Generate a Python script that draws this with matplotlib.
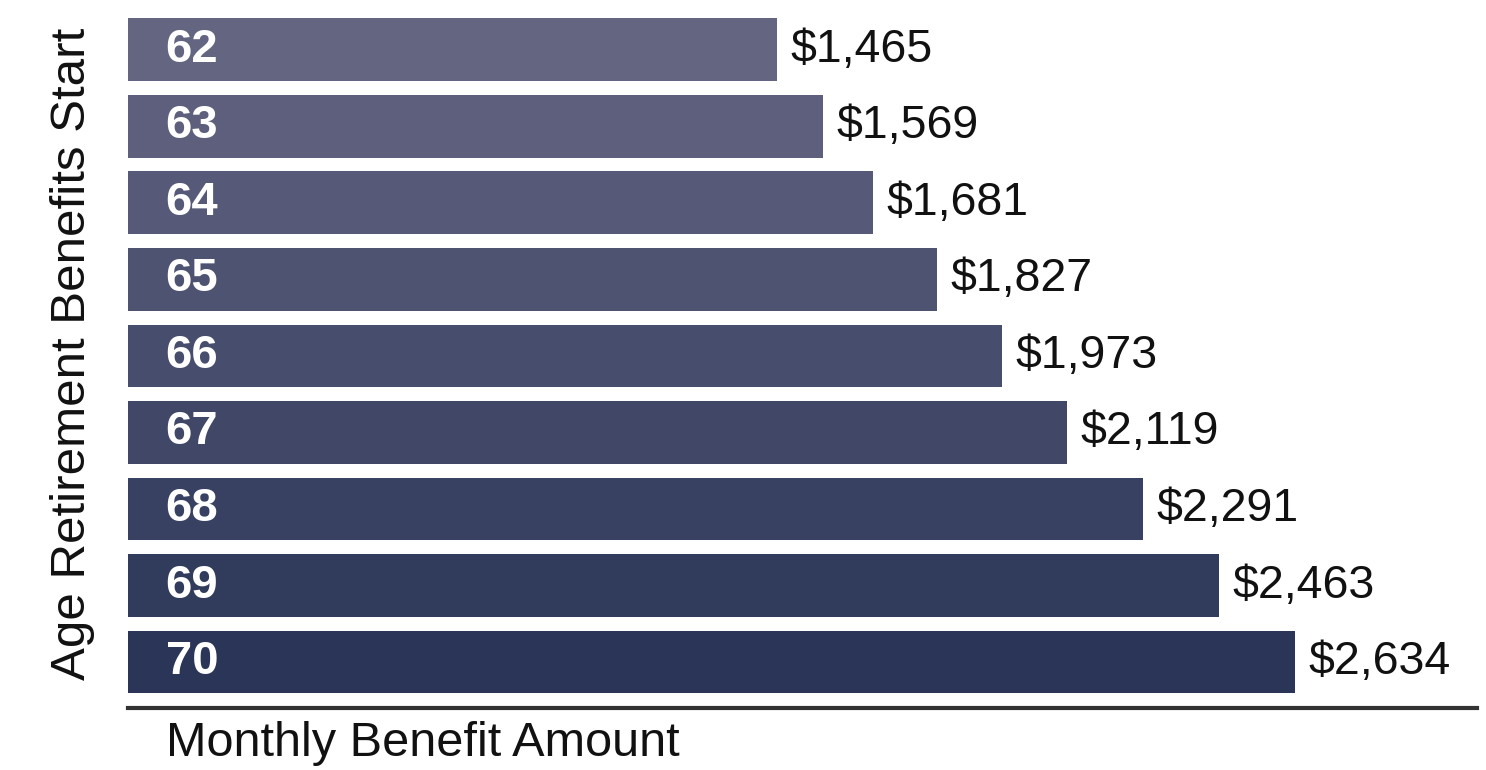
import numpy as np
import matplotlib.pyplot as plt
from matplotlib.colors import to_rgb

ages = ["62", "63", "64", "65", "66", "67", "68", "69", "70"]
benefits = [1465, 1569, 1681, 1827, 1973, 2119, 2291, 2463, 2634]

plt.rcParams['font.family'] = ['Liberation Sans', 'DejaVu Sans']

# bars darken from slate grey to navy as the start age goes up
light = np.array(to_rgb("#646581"))
dark = np.array(to_rgb("#2a3557"))
shades = [tuple(light + (dark - light) * t) for t in np.linspace(0, 1, len(ages))]

fig = plt.figure(figsize=(14.86, 7.70), dpi=100)
ax = fig.add_axes([0.0861, 0.0805, 0.9079, 0.9195])

ypos = np.arange(len(ages))
bars = ax.barh(ypos, benefits, height=0.82, color=shades, edgecolor="none")

ax.set_ylim(8.6, -0.65)
ax.set_xlim(0, 3045)

for bar, age, amount in zip(bars, ages, benefits):
    y = bar.get_y() + bar.get_height() / 2
    ax.text(85, y, age, color="white", fontsize=34, fontweight="bold",
            va="center", ha="left")
    ax.text(bar.get_width() + 30, y, "${:,}".format(amount), color="#111111",
            fontsize=33.5, va="center", ha="left")

for side in ["top", "right", "left"]:
    ax.spines[side].set_visible(False)
ax.spines["bottom"].set_linewidth(3)
ax.spines["bottom"].set_color("#333333")
ax.set_xticks([])
ax.set_yticks([])

ax.set_xlabel("Monthly Benefit Amount", fontsize=35, color="#111111",
              loc="left", labelpad=9)
ax.xaxis.label.set_x(0.028)
ax.set_ylabel("Age Retirement Benefits Start", fontsize=35.5, color="#111111",
              labelpad=24)

fig.savefig("out.png", dpi=100)
